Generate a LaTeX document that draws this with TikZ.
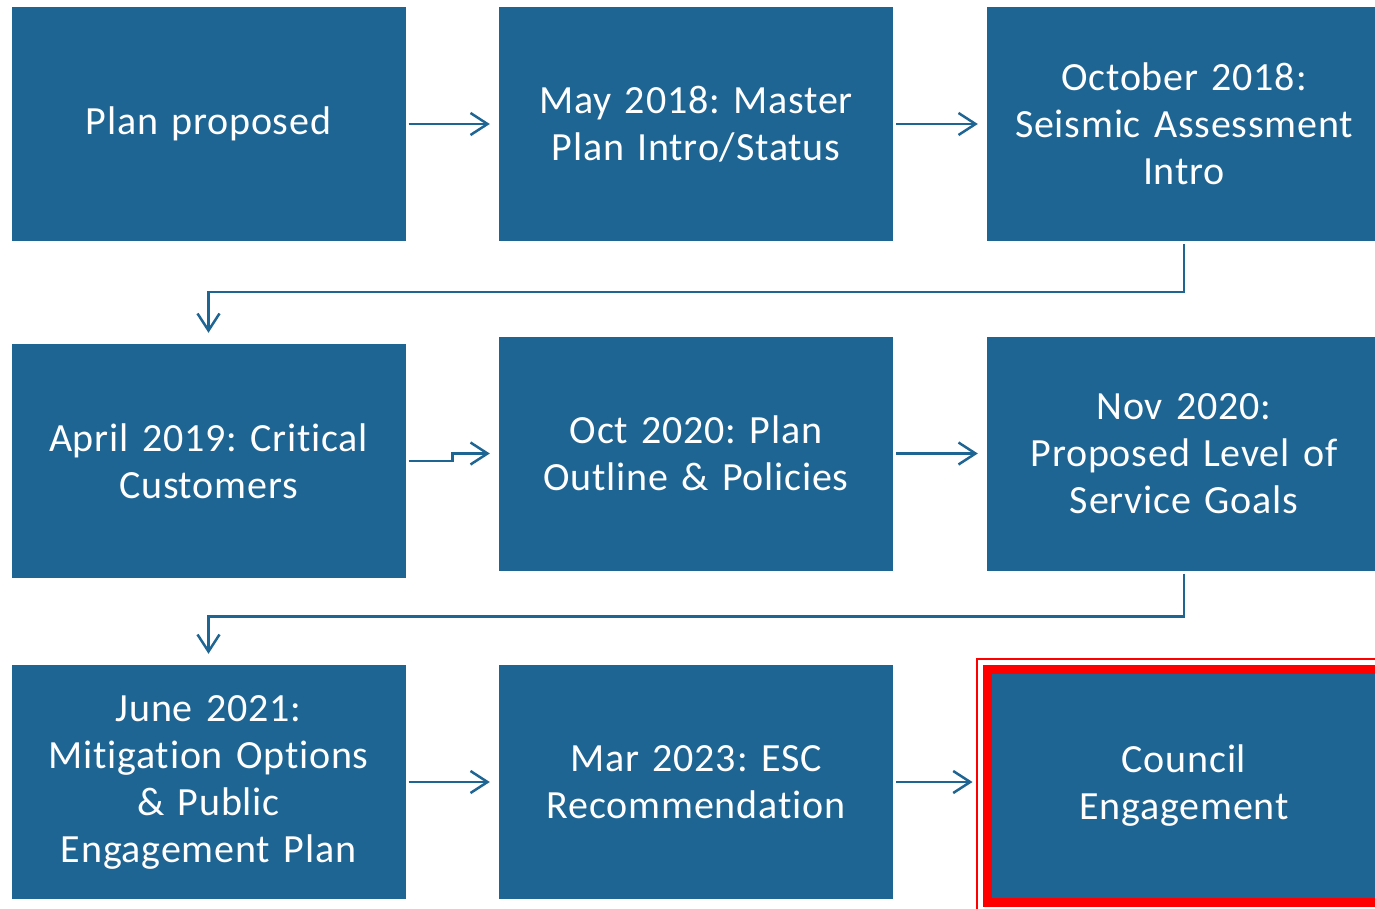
\documentclass[tikz,border=0pt]{standalone}
\usepackage{fontspec}
\setmainfont{Carlito}[LetterSpace=2.0, Ligatures={NoCommon}]
\usetikzlibrary{arrows.meta}
\usetikzlibrary{positioning}
\definecolor{stepblue}{RGB}{31,101,148}
\tikzstyle{blue_box} = [
    rectangle,
    fill=stepblue,
    text=white,
    align=center,
    inner sep=0pt,
    text width=380pt,
    minimum width=394pt,
    minimum height=234pt,
    font=\fontsize{40}{47}\selectfont\frenchspacing
]
\tikzstyle{red_box} = [
    blue_box,
    draw=red,
    line width=9pt,
    minimum height=233pt
]
\tikzstyle{link} = [
    draw=stepblue,
    line width=2.5pt,
    -{Straight Barb[length=17pt, width=22pt]}
]

\begin{document}
\begin{tikzpicture}[x=1pt, y=-1pt]
\useasboundingbox (0,0) rectangle (1375,909);

% first row
\node [blue_box] (plan) at (208.5,124) {Plan proposed};
\node [blue_box] (master) at (696,124) {May 2018: Master\\Plan Intro/Status};
\node [blue_box] (seismic) at (1184,124) {October 2018:\\Seismic Assessment\\Intro};

% second row
\node [blue_box] (critical) at (208.5,461) {April 2019: Critical\\Customers};
\node [blue_box] (outline) at (696,453.5) {Oct 2020: Plan\\Outline \& Policies};
\node [blue_box] (service) at (1184,453.5) {Nov 2020:\\Proposed Level of\\Service Goals};

% third row
\node [blue_box] (mitigation) at (208.5,782) {June 2021:\\Mitigation Options\\\& Public\\Engagement Plan};
\node [blue_box] (esc) at (696,782) {Mar 2023: ESC\\Recommendation};
\node [red_box] (council) at (1184,786) {Council\\Engagement};
\draw [red, line width=1.5pt] (977,659) rectangle (1385,915); % outer frame

\draw [link, shorten <=3pt, shorten >=9pt] (plan) -- (master);
\draw [link, shorten <=3pt, shorten >=9pt] (master) -- (seismic);
\draw [link, shorten <=3pt, shorten >=11pt] (seismic.south) -- ++(0,51) -| (critical.north);

\draw [link, shorten <=3pt, shorten >=9pt] (critical.east) -- ++(47,0) |- (outline.west);
\draw [link, shorten <=3pt, shorten >=9pt] (outline) -- (service);
\draw [link, shorten <=3pt, shorten >=11pt] (service.south) -- ++(0,46) -| (mitigation.north);

\draw [link, shorten <=3pt, shorten >=9pt] (mitigation) -- (esc);
\draw [link, shorten <=3pt, shorten >=10pt] (esc) -- (esc -| council.west);
\end{tikzpicture}
\end{document}
